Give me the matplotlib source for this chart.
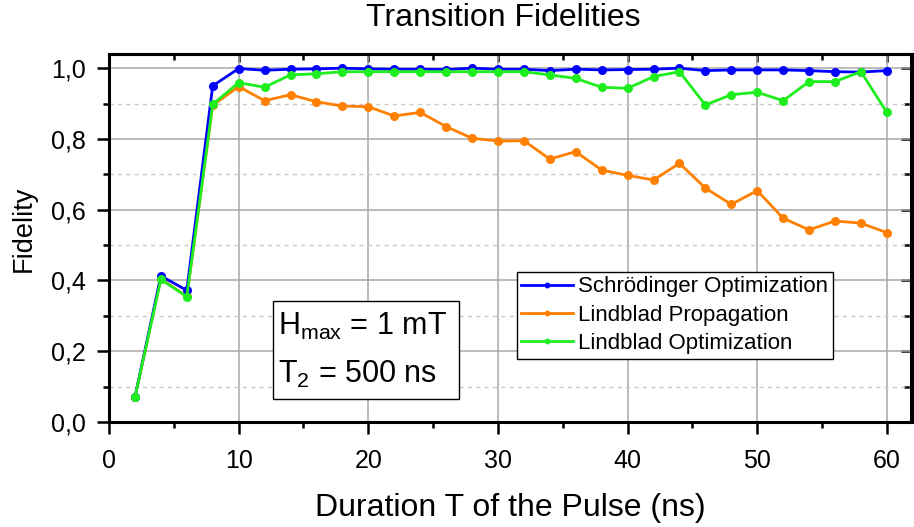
import matplotlib
matplotlib.use("Agg")
import matplotlib.pyplot as plt
from matplotlib.ticker import MultipleLocator, FuncFormatter
from matplotlib.patches import Rectangle

plt.rcParams['font.family'] = ['Liberation Sans', 'DejaVu Sans']
plt.rcParams['mathtext.fontset'] = 'custom'
plt.rcParams['mathtext.rm'] = 'Liberation Sans'

T = [2, 4, 6, 8, 10, 12, 14, 16, 18, 20, 22, 24, 26, 28, 30,
     32, 34, 36, 38, 40, 42, 44, 46, 48, 50, 52, 54, 56, 58, 60]

schroedinger_opt = [0.070, 0.413, 0.372, 0.950, 0.999, 0.994, 0.997, 0.998, 1.000, 0.998,
                    0.997, 0.997, 0.996, 1.000, 0.997, 0.997, 0.993, 0.997, 0.995, 0.996,
                    0.997, 1.000, 0.993, 0.995, 0.995, 0.995, 0.993, 0.990, 0.989, 0.993]

lindblad_prop = [0.070, 0.405, 0.355, 0.895, 0.948, 0.908, 0.925, 0.905, 0.893, 0.891,
                 0.865, 0.875, 0.835, 0.802, 0.794, 0.795, 0.743, 0.764, 0.712, 0.697,
                 0.684, 0.731, 0.661, 0.615, 0.654, 0.576, 0.543, 0.568, 0.562, 0.535]

lindblad_opt = [0.070, 0.403, 0.354, 0.898, 0.959, 0.946, 0.981, 0.984, 0.990, 0.990,
                0.990, 0.990, 0.990, 0.990, 0.990, 0.990, 0.981, 0.971, 0.946, 0.943,
                0.976, 0.990, 0.896, 0.925, 0.932, 0.908, 0.962, 0.962, 0.990, 0.875]

series_labels = ["Schrödinger Optimization", "Lindblad Propagation", "Lindblad Optimization"]
series_colors = ["#0000FF", "#FF8000", "#1EEE1E"]

W, H = 914, 527
fig = plt.figure(figsize=(W / 100, H / 100), dpi=100)
ax_l, ax_r, ax_b, ax_t = 109, 911.5, 422, 54
ax = fig.add_axes([ax_l / W, 1 - ax_b / H, (ax_r - ax_l) / W, (ax_b - ax_t) / H])

aw, ah = ax_r - ax_l, ax_b - ax_t
def axx(px):
    return (px - ax_l) / aw
def axy(py):
    return (ax_b - py) / ah

# grid
ax.set_axisbelow(True)
ax.grid(True, which='major', color='#A8A8A8', linewidth=1.1, linestyle='-')
ax.yaxis.grid(True, which='minor', color='#C8C8C8', linewidth=1.0, linestyle=(0, (3, 3)))

order = [(lindblad_prop, 1), (schroedinger_opt, 0), (lindblad_opt, 2)]
handles = {}
for data, i in order:
    h, = ax.plot(T, data, '-o', color=series_colors[i], lw=2.0, ms=6.5,
                 markeredgewidth=0, label=series_labels[i], zorder=3)
    handles[i] = h

ax.set_xlim(0, 61.9)
ax.set_ylim(0, 1.04)
ax.xaxis.set_major_locator(MultipleLocator(10))
ax.xaxis.set_minor_locator(MultipleLocator(5))
ax.yaxis.set_major_locator(MultipleLocator(0.2))
ax.yaxis.set_minor_locator(MultipleLocator(0.1))
ax.yaxis.set_major_formatter(FuncFormatter(lambda v, p: f"{v:.1f}".replace('.', ',')))

ax.tick_params(which='both', direction='out', width=1.8, labelsize=18, colors='black')
ax.tick_params(which='major', length=8.5)
ax.tick_params(which='minor', length=4.5)
ax.tick_params(axis='x', pad=11)
ax.tick_params(axis='y', pad=8.5)

for s in ax.spines.values():
    s.set_linewidth(2.2)

# mirrored top / right ticks pointing inward
top = ax.secondary_xaxis('top')
top.xaxis.set_major_locator(MultipleLocator(10))
top.xaxis.set_minor_locator(MultipleLocator(5))
top.tick_params(which='both', direction='in', width=1.8, labeltop=False)
top.tick_params(which='major', length=6)
top.tick_params(which='minor', length=4.5)
top.spines['top'].set_linewidth(2.2)
right = ax.secondary_yaxis('right')
right.yaxis.set_major_locator(MultipleLocator(0.2))
right.yaxis.set_minor_locator(MultipleLocator(0.1))
right.tick_params(which='both', direction='in', width=1.8, labelright=False)
right.tick_params(which='major', length=8)
right.tick_params(which='minor', length=6)
right.spines['right'].set_linewidth(2.2)

ax.set_title("Transition Fidelities", fontsize=23, pad=20, x=0.491)
ax.set_xlabel("Duration T of the Pulse (ns)", fontsize=23, labelpad=14)
ax.set_ylabel("Fidelity", fontsize=19.5)
ax.yaxis.set_label_coords(axx(37), axy(228.5))

leg = ax.legend([handles[0], handles[1], handles[2]], series_labels,
                loc='upper left', bbox_to_anchor=(axx(517), axy(272)), fontsize=16,
                frameon=True, fancybox=False, edgecolor='black', framealpha=1,
                borderpad=0.2, labelspacing=0.33, handlelength=2.3, handletextpad=0.25,
                borderaxespad=0, markerscale=0.65)
leg.get_frame().set_linewidth(1.0)

# parameter box
ax.add_patch(Rectangle((axx(273.3), axy(399.3)), axx(459) - axx(273.3), axy(301) - axy(399.3),
                       transform=ax.transAxes, facecolor='white', edgecolor='black',
                       linewidth=1.0, zorder=5))
ax.text(axx(278), axy(335), "H$_\\mathregular{max}$ = 1 mT", transform=ax.transAxes,
        fontsize=22, va='baseline', ha='left', zorder=6)
ax.text(axx(278), axy(382.7), "T$_\\mathregular{2}$ = 500 ns", transform=ax.transAxes,
        fontsize=22, va='baseline', ha='left', zorder=6)

fig.savefig("out.png", dpi=100)
